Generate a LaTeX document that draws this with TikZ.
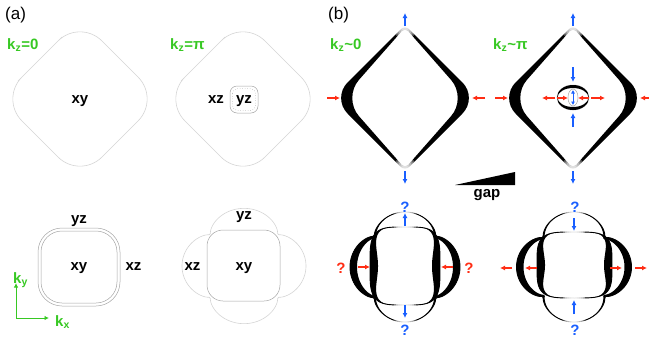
\documentclass[tikz,border=0pt]{standalone}
\usepackage{fontspec}
\setmainfont{Liberation Sans}
\usetikzlibrary{arrows.meta}
\definecolor{kgreen}{RGB}{55,200,35}
\definecolor{kblue}{RGB}{25,95,255}
\definecolor{kred}{RGB}{255,45,20}
\definecolor{lgray}{RGB}{212,212,212}
\definecolor{mgray}{RGB}{165,165,165}
\newcommand\myarr[4]{\coordinate (#1s) at #3; \coordinate (#1e) at #4; \draw[#2] (#1s) -- (#1e);}
\newcommand\wspot[1]{\foreach \rr in {11,9,7,5,3}{\fill[white,opacity=0.35] #1 circle[radius=\rr];}}
\begin{document}
\begin{tikzpicture}[x=1pt,y=-1pt,
  lab/.style={font=\fontsize{15}{18}\selectfont\bfseries, inner sep=0pt, anchor=base},
  klab/.style={font=\fontsize{15}{18}\selectfont\bfseries, text=kgreen, inner sep=0pt, anchor=base west},
  plab/.style={font=\fontsize{17}{20}\selectfont, inner sep=0pt, anchor=base west},
  qb/.style={lab, text=kblue},
  qr/.style={lab, text=kred},
  barr/.style={kblue, line width=1.3pt, -{Latex[length=5pt,width=5pt]}},
  rarr/.style={kred, line width=1.3pt, -{Latex[length=5pt,width=5pt]}},
  garr/.style={kgreen, line width=1pt, -{Latex[length=4.5pt,width=4.5pt]}},
  agray/.style={lgray, line width=0.6pt},
  bgray/.style={mgray, line width=0.5pt},
  declare function={lobe(\t,\c,\d)=\c+\d*(abs(cos(2*\t))+0.0001)^0.7;
                    sqe(\t)=1/((abs(cos(\t))+0.0001)^4+(abs(sin(\t))+0.0001)^4)^0.25;}
]
\useasboundingbox (0,0) rectangle (649,341);

% ---------- panel (a) ----------
\draw[agray, rounded corners=31pt] (40,59) -- (80,19) -- (160,99) -- (80,179) -- (0,99) -- cycle;
\draw[agray, rounded corners=31pt] (203,59) -- (243,19) -- (323,99) -- (243,179) -- (163,99) -- cycle;
\draw[bgray, rounded corners=7pt] (230,86) rectangle (258,113);
\draw[bgray, dotted, rounded corners=5pt] (232.5,88.5) rectangle (255.5,110.5);

\draw[bgray, rounded corners=24pt] (38,228) rectangle (120,306);
\draw[bgray, rounded corners=21pt] (41,231) rectangle (117,303);

\draw[bgray, rounded corners=16pt] (207,230) rectangle (280,301);
\draw[agray] plot[domain=0:360, samples=181] ({244+lobe(\x,47,15)*cos(\x)},{266+0.93*lobe(\x,47,15)*sin(\x)}) -- cycle;

\node[plab] (pa) at (5,19.5) {(a)};
\node[klab] (k1) at (7,49) {k\textsubscript{z}=0};
\node[klab] (k2) at (170,49) {k\textsubscript{z}=π};
\node[lab] (xy1) at (80,103) {xy};
\node[lab] (xz1) at (216,103) {xz};
\node[lab] (yz1) at (244,103) {yz};
\node[lab] (yz2) at (79,223) {yz};
\node[lab] (xy2) at (79,270) {xy};
\node[lab] (xz2) at (133.5,270) {xz};
\node[lab] (yz3) at (244,219) {yz};
\node[lab] (xz3) at (192.5,270) {xz};
\node[lab] (xy3) at (244,270) {xy};

\coordinate (O) at (16,318);
\coordinate (kyend) at (16,283);
\coordinate (kxend) at (49,318);
\draw[garr] (O) -- (kyend);
\draw[garr] (O) -- (kxend);
\node[klab] (kyl) at (13,283) {k\textsubscript{y}};
\node[klab] (kxl) at (55,326) {k\textsubscript{x}};

% ---------- panel (b) ----------
\node[plab] (pb) at (328,19.5) {(b)};
\node[klab] (k3) at (330,49) {k\textsubscript{z}\textasciitilde0};
\node[klab] (k4) at (493,49) {k\textsubscript{z}\textasciitilde π};

\foreach \cx in {405,573}{
\begin{scope}[shift={(\cx,98)}]
\fill[even odd rule] (-4.24,-68.76) .. controls (-1.9,-71.1) and (1.9,-71.1) .. (4.24,-68.76) -- (57.44,-15.56) .. controls (66.03,-6.97) and (66.03,6.97) .. (57.44,15.56) -- (4.24,68.76) .. controls (1.9,71.1) and (-1.9,71.1) .. (-4.24,68.76) -- (-57.44,15.56) .. controls (-66.03,6.97) and (-66.03,-6.97) .. (-57.44,-15.56) -- cycle
 (-3.30,-66.74) .. controls (-1.48,-68.81) and (1.48,-68.81) .. (3.30,-66.74) -- (46.15,-18.02) .. controls (54.90,-8.07) and (54.90,8.07) .. (46.15,18.02) -- (3.30,66.74) .. controls (1.48,68.81) and (-1.48,68.81) .. (-3.30,66.74) -- (-46.15,18.02) .. controls (-54.90,8.07) and (-54.90,-8.07) .. (-46.15,-18.02) -- cycle;
\end{scope}
\wspot{(\cx,29)}
\wspot{(\cx,167)}
}

% lens
\draw[mgray, line width=0.5pt] (573,97.5) ellipse[x radius=16, y radius=12.5];
\fill[even odd rule] (573,97.5) ellipse[x radius=16, y radius=12.5] (573,97.5) ellipse[x radius=15.5, y radius=9.5];
\draw[mgray, line width=0.5pt] (573,97.5) ellipse[x radius=5, y radius=8.5];

% gap wedge
\fill (455,185) -- (515,185) -- (515,172) -- cycle;
\node[lab] (gap) at (487,197) {gap};

% bottom left shape
\fill[even odd rule] plot[domain=0:360,samples=181] ({405+lobe(\x,43,12)*cos(\x)},{267+lobe(\x,43,12)*sin(\x)}) -- cycle
  plot[domain=0:360,samples=181] ({405+(lobe(\x,43,12)-7*abs(cos(\x)*cos(\x)*cos(\x)))*cos(\x)},{267+(lobe(\x,43,12)-7*abs(cos(\x)*cos(\x)*cos(\x)))*sin(\x)}) -- cycle;
\draw[line width=0.9pt] plot[domain=0:360,samples=181] ({405+lobe(\x,43,12)*cos(\x)},{267+lobe(\x,43,12)*sin(\x)}) -- cycle;
\fill[even odd rule] plot[domain=0:360,samples=181] ({405+35*sqe(\x)*cos(\x)},{266+39*sqe(\x)*sin(\x)}) -- cycle
  plot[domain=0:360,samples=181] ({405+(35*sqe(\x)-8*cos(\x)*cos(\x))*cos(\x)},{266+39*sqe(\x)*sin(\x)}) -- cycle;
\draw[line width=0.9pt] plot[domain=0:360,samples=181] ({405+35*sqe(\x)*cos(\x)},{266+39*sqe(\x)*sin(\x)}) -- cycle;
\wspot{(405,212)}
\wspot{(405,227)}
\wspot{(405,305)}
\wspot{(405,322)}

% bottom right shape
\fill[even odd rule] plot[domain=0:360,samples=181] ({574+lobe(\x,43,14.5)*cos(\x)},{267+0.957*lobe(\x,43,14.5)*sin(\x)}) -- cycle
  plot[domain=0:360,samples=181] ({574+(lobe(\x,43,14.5)-7*abs(cos(\x)*cos(\x)*cos(\x)))*cos(\x)},{267+0.957*(lobe(\x,43,14.5)-7*abs(cos(\x)*cos(\x)*cos(\x)))*sin(\x)}) -- cycle;
\draw[line width=0.9pt] plot[domain=0:360,samples=181] ({574+lobe(\x,43,14.5)*cos(\x)},{267+0.957*lobe(\x,43,14.5)*sin(\x)}) -- cycle;
\fill[even odd rule] plot[domain=0:360,samples=181] ({574.5+37.5*sqe(\x)*cos(\x)},{265+33*sqe(\x)*sin(\x)}) -- cycle
  plot[domain=0:360,samples=181] ({574.5+(37.5*sqe(\x)-8*cos(\x)*cos(\x))*cos(\x)},{265+33*sqe(\x)*sin(\x)}) -- cycle;
\draw[line width=0.9pt] plot[domain=0:360,samples=181] ({574.5+37.5*sqe(\x)*cos(\x)},{265+33*sqe(\x)*sin(\x)}) -- cycle;
\wspot{(574,212)}
\wspot{(574,232)}
\wspot{(574,298)}
\wspot{(574,322)}

% arrows
\myarr{a1}{barr}{(405,26)}{(405,13)}
\myarr{a2}{barr}{(405,171)}{(405,184)}
\myarr{a3}{rarr}{(327,98)}{(340,98)}
\myarr{a4}{rarr}{(485,98)}{(472,98)}
\myarr{b1}{barr}{(573,26)}{(573,13)}
\myarr{b2}{barr}{(573,171)}{(573,184)}
\myarr{b3}{rarr}{(495,98)}{(508,98)}
\myarr{b4}{rarr}{(653,98)}{(640,98)}
\myarr{c1}{barr}{(573,67)}{(573,82)}
\myarr{c2}{barr}{(573,127)}{(573,113)}
\myarr{c3}{rarr}{(555,98)}{(542,98)}
\myarr{c4}{rarr}{(557,98)}{(568,98)}
\myarr{c5}{rarr}{(589,98)}{(578,98)}
\myarr{c6}{rarr}{(591,98)}{(605,98)}
\myarr{c7}{barr,{Latex[length=3.5pt,width=4pt]}-{Latex[length=3.5pt,width=4pt]},line width=1pt}{(573,90)}{(573,105)}
\myarr{d1}{barr}{(405,226)}{(405,213)}
\myarr{d2}{barr}{(405,305)}{(405,318)}
\myarr{d3}{rarr}{(358,267)}{(370,267)}
\myarr{d4}{rarr}{(453,267)}{(441,267)}
\myarr{e1}{barr}{(574,218)}{(574,231)}
\myarr{e2}{barr}{(574,314)}{(574,300)}
\myarr{e3}{rarr}{(512,268)}{(500,268)}
\myarr{e4}{rarr}{(537,268)}{(525,268)}
\myarr{e5}{rarr}{(610,268)}{(622,268)}
\myarr{e6}{rarr}{(635,268)}{(647,268)}

\node[qb] (q1) at (405,212) {?};
\node[qb] (q2) at (405,335) {?};
\node[qr] (q3) at (341,273) {?};
\node[qr] (q4) at (469,273) {?};
\node[qb] (q5) at (575,212) {?};
\node[qb] (q6) at (575,335) {?};
\end{tikzpicture}
\end{document}
